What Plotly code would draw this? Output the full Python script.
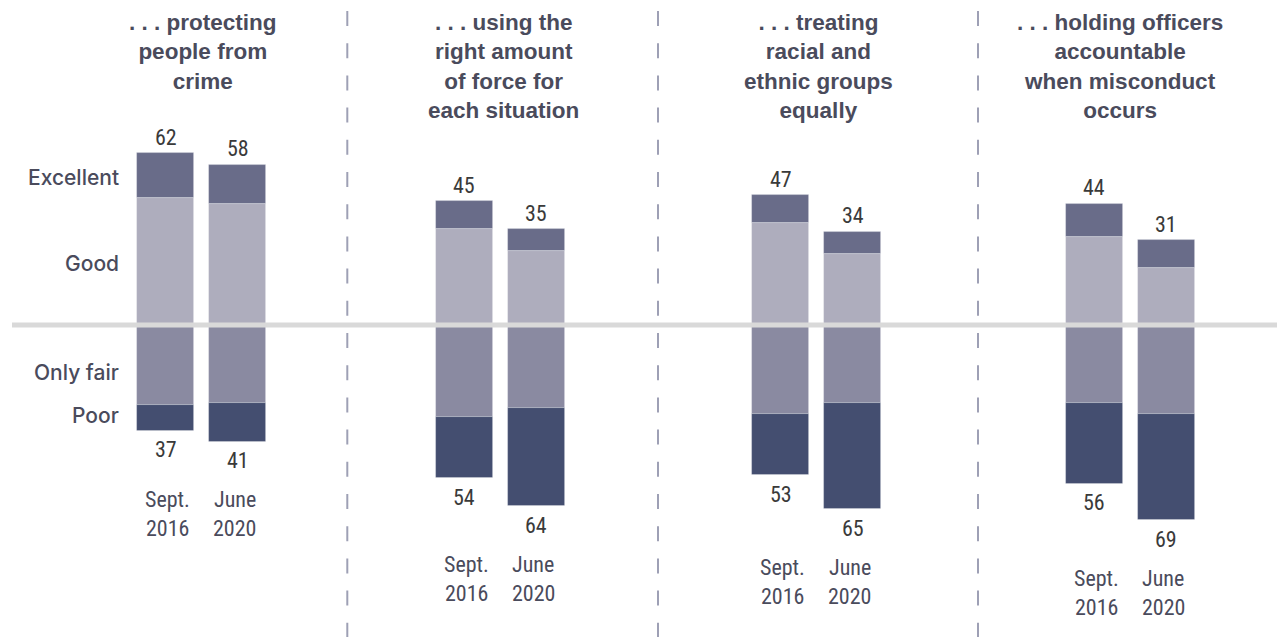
import plotly.graph_objects as go

# ---- data -------------------------------------------------------------
topics = [
    ". . . protecting<br>people from<br>crime",
    ". . . using the<br>right amount<br>of force for<br>each situation",
    ". . . treating<br>racial and<br>ethnic groups<br>equally",
    ". . . holding officers<br>accountable<br>when misconduct<br>occurs",
]
waves = [("Sept.", "2016"), ("June", "2020")]
ratings = ["Excellent", "Good", "Only fair", "Poor"]

# one value per bar, ordered topic by topic: [Sept. 2016, June 2020]
excellent = [16, 14, 10, 8, 10, 8, 12, 10]
good = [46, 44, 35, 27, 37, 26, 32, 21]
only_fair = [28, 27, 32, 29, 31, 27, 27, 31]
poor = [9, 14, 22, 35, 22, 38, 29, 38]

# ---- layout constants -------------------------------------------------
W, H = 1277, 637
PX_PER_UNIT = 2.8
BASELINE_PX = 327
ZERO_LINE_PX = 325
PANEL_CENTERS = [201.7, 500.3, 816.8, 1130.2]
TITLE_CENTERS = [203, 503, 818, 1120]
DIVIDERS = [347.3, 658, 978]
PAIR_OFFSET = 36
BAR_WIDTH = 57

COL_EXC = "#696c89"
COL_GOOD = "#aeadbd"
COL_FAIR = "#8a8aa1"
COL_POOR = "#444e70"
TEXT_DARK = "#4a4b5c"
VALUE_COL = "#3a3a3a"

NARROW = "Liberation Sans Narrow, Roboto Condensed, Roboto, sans-serif"
SANS = "Liberation Sans, Arial, Helvetica, sans-serif"

bar_x = [c + s * PAIR_OFFSET for c in PANEL_CENTERS for s in (-1, 1)]
pos_total = [e + g for e, g in zip(excellent, good)]
neg_total = [f + p for f, p in zip(only_fair, poor)]

fig = go.Figure()


def add_bars(name, values, color):
    fig.add_trace(go.Bar(
        x=bar_x, y=values, name=name, width=BAR_WIDTH,
        marker=dict(color=color, line=dict(width=0.8, color="rgba(255,255,255,0.35)")),
        hoverinfo="skip", showlegend=False,
    ))


# positive side stacks outward from zero: Good, then Excellent
add_bars("Good", good, COL_GOOD)
add_bars("Excellent", excellent, COL_EXC)
# negative side: Only fair next to zero, then Poor
add_bars("Only fair", [-v for v in only_fair], COL_FAIR)
add_bars("Poor", [-v for v in poor], COL_POOR)

annotations = []

# totals above and below each bar
for x, top, bot in zip(bar_x, pos_total, neg_total):
    annotations.append(dict(x=x, y=top, text=str(top), showarrow=False,
                            yanchor="middle", yshift=16,
                            font=dict(family=NARROW, size=22, color=VALUE_COL)))
    annotations.append(dict(x=x, y=-bot, text=str(bot), showarrow=False,
                            yanchor="middle", yshift=-19,
                            font=dict(family=NARROW, size=22, color=VALUE_COL)))

# survey wave labels under each pair
for i in range(len(topics)):
    lowest = max(neg_total[2 * i], neg_total[2 * i + 1])
    for j, (line1, line2) in enumerate(waves):
        x = bar_x[2 * i + j] + (2 if j == 0 else -3)
        for txt, shift in ((line1, -58), (line2, -87)):
            annotations.append(dict(x=x, y=-lowest, text=txt, showarrow=False,
                                    yanchor="middle", yshift=shift,
                                    font=dict(family=NARROW, size=22, color=TEXT_DARK)))

# topic headings
for xc, title in zip(TITLE_CENTERS, topics):
    annotations.append(dict(x=xc, y=1, yref="paper", text=title, showarrow=False,
                            xanchor="center", yanchor="top", yshift=-8, align="center",
                            font=dict(family=SANS, size=22.5, color=TEXT_DARK, weight="bold")))

# rating labels beside the first bar
first = 0
mid_exc = good[first] + excellent[first] / 2
mid_good = good[first] / 2
mid_fair = -only_fair[first] / 2
mid_poor = -(only_fair[first] + poor[first] / 2)
for label, y, shift in zip(ratings, [mid_exc, mid_good, mid_fair, mid_poor], [-2, -1, -6, 3]):
    annotations.append(dict(x=121, y=y, text=label, showarrow=False,
                            xanchor="right", yanchor="middle", yshift=shift,
                            font=dict(family="Inter, " + SANS, size=21, color=TEXT_DARK, weight=500)))

shapes = []
# zero line
zero_line_y = (BASELINE_PX - ZERO_LINE_PX) / PX_PER_UNIT
shapes.append(dict(type="line", xref="x", yref="y", x0=12, x1=W,
                   y0=zero_line_y, y1=zero_line_y,
                   line=dict(color="#d9d9d9", width=5), layer="above"))
# dashed separators between topics
for xd in DIVIDERS:
    shapes.append(dict(type="line", xref="x", yref="paper", x0=xd, x1=xd,
                       y0=1 - 11 / H, y1=0,
                       line=dict(color="#9ea0b5", width=2, dash="15px,17.2px"),
                       layer="above"))

y_top = BASELINE_PX / PX_PER_UNIT
y_bot = -(H - BASELINE_PX) / PX_PER_UNIT

fig.update_layout(
    width=W, height=H,
    margin=dict(l=0, r=0, t=0, b=0),
    paper_bgcolor="white", plot_bgcolor="white",
    barmode="relative", bargap=0,
    xaxis=dict(range=[0, W], visible=False, fixedrange=True),
    yaxis=dict(range=[y_bot, y_top], visible=False, fixedrange=True),
    annotations=annotations, shapes=shapes,
    showlegend=False,
)

fig.write_html("out.html", config={"displayModeBar": False})
